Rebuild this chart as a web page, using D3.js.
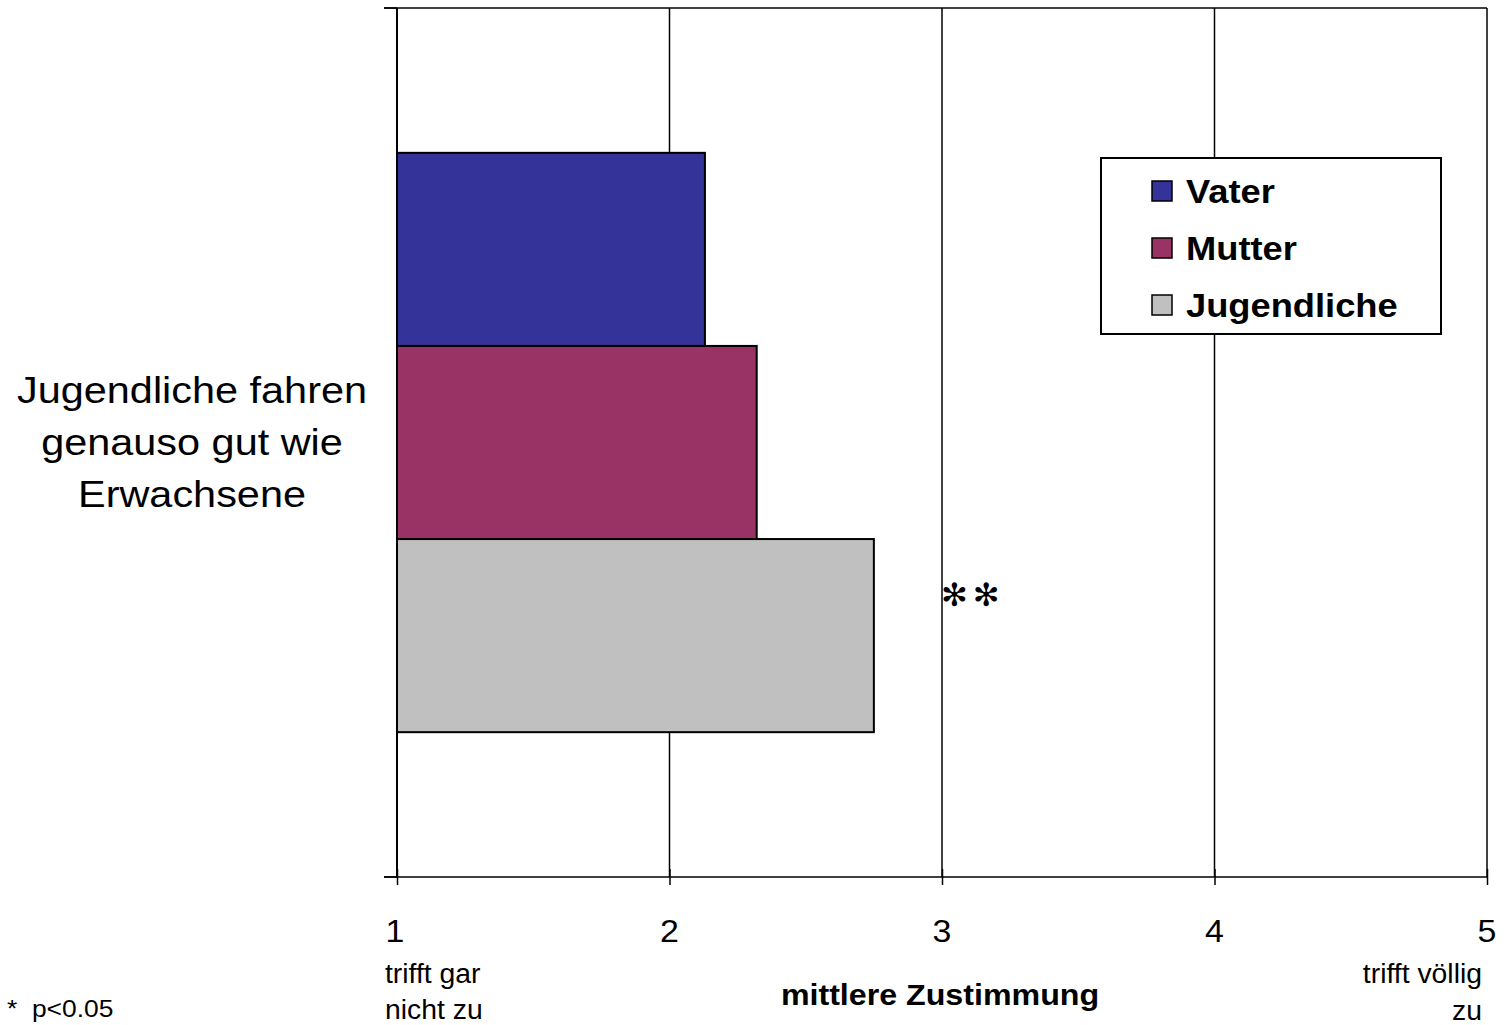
<!DOCTYPE html>
<html>
<head>
<meta charset="utf-8">
<script src="https://cdn.jsdelivr.net/npm/d3@7"></script>
<style>
  html, body { margin: 0; padding: 0; background: #fff; }
  svg { display: block; font-family: "Liberation Sans", Arial, sans-serif; }
  text { white-space: pre; }
</style>
</head>
<body>
<svg id="chart" width="1508" height="1025"></svg>
<script>
const categories = ["Jugendliche fahren genauso gut wie Erwachsene"];
const categoryLines = ["Jugendliche fahren", "genauso gut wie", "Erwachsene"];
const series = ["Vater", "Mutter", "Jugendliche"];
const values = [2.13, 2.32, 2.75];
const colors = ["#333399", "#993366", "#C0C0C0"];
const xTicks = [1, 2, 3, 4, 5];
const leftEndLabel = ["trifft gar", "nicht zu"];
const rightEndLabel = ["trifft völlig", "zu"];
const xTitle = "mittlere Zustimmung";
const significance = "✻✻";
const footnote = "*  p<0.05";

(function () {
const svg = d3.select("#chart");
const pL = 397, pR = 1487, pT = 8, pB = 877;

// place a text with horizontal stretch
function txt(sel, px, py, sx) {
  return sel.attr("transform", `translate(${px},${py}) scale(${sx},1)`);
}

const x = d3.scaleLinear().domain([1, 5]).range([pL, pR]);
const yCat = d3.scaleBand().domain(categories).range([pT, pB]).paddingInner(0).paddingOuter(0);
const bandPad = yCat.bandwidth() / 6;
const ySer = d3.scaleBand().domain(series)
  .range([yCat(categories[0]) + bandPad, yCat(categories[0]) + yCat.bandwidth() - bandPad]);

// top horizontal line (category boundary)
svg.append("line").attr("x1", pL - 13).attr("x2", pR).attr("y1", pT).attr("y2", pT)
  .attr("stroke", "#000").attr("stroke-width", 1.5);

// vertical gridlines
svg.append("g").selectAll("line").data(xTicks.slice(1)).join("line")
  .attr("x1", d => x(d)).attr("x2", d => x(d))
  .attr("y1", pT).attr("y2", pB)
  .attr("stroke", "#000").attr("stroke-width", 1.5);

// bars
svg.append("g").selectAll("rect").data(series).join("rect")
  .attr("x", x(1))
  .attr("y", d => ySer(d))
  .attr("width", (d, i) => x(values[i]) - x(1))
  .attr("height", ySer.bandwidth())
  .attr("fill", (d, i) => colors[i])
  .attr("stroke", "#000").attr("stroke-width", 2);

// y axis
svg.append("line").attr("x1", pL).attr("x2", pL).attr("y1", pT).attr("y2", pB)
  .attr("stroke", "#000").attr("stroke-width", 2);
svg.append("g").selectAll("line").data([pT, pB]).join("line")
  .attr("x1", pL - 13).attr("x2", pL).attr("y1", d => d).attr("y2", d => d)
  .attr("stroke", "#000").attr("stroke-width", 1.5);

// x axis
const xAxis = d3.axisBottom(x).tickValues(xTicks).tickSize(8).tickSizeOuter(0).tickFormat("");
const gx = svg.append("g").attr("transform", `translate(0,${pB})`).call(xAxis);
gx.select(".domain").attr("stroke", "#000").attr("stroke-width", 1.5)
  .attr("d", `M${pL - 13},0H${pR}`);
gx.selectAll(".tick line").attr("stroke", "#000").attr("stroke-width", 1.5).attr("y1", -8).attr("y2", 8);

// tick labels
svg.append("g").selectAll("text").data(xTicks).join("text")
  .each(function (d) { txt(d3.select(this), x(d) - (d === 1 ? 2 : 0), 942, 1.06); })
  .attr("text-anchor", "middle")
  .attr("font-size", 32)
  .text(d => d);

// end labels
svg.append("g").selectAll("text").data(leftEndLabel).join("text")
  .each(function (d, i) { txt(d3.select(this), 385, 983 + i * 36, 1.05); })
  .attr("font-size", 27).text(d => d);
svg.append("g").selectAll("text").data(rightEndLabel).join("text")
  .each(function (d, i) { txt(d3.select(this), 1482, 983 + i * 37, 1.05); })
  .attr("text-anchor", "end")
  .attr("font-size", 27).text(d => d);

// x title
txt(svg.append("text"), 940, 1005, 1.11).attr("text-anchor", "middle")
  .attr("font-size", 29).attr("font-weight", "bold").text(xTitle);

// category label
svg.append("g").selectAll("text").data(categoryLines).join("text")
  .each(function (d, i) { txt(d3.select(this), 192, 403 + i * 52, 1.12); })
  .attr("text-anchor", "middle").attr("font-size", 37).text(d => d);

// significance
svg.append("text").attr("x", 941).attr("y", 606).attr("font-size", 32)
  .attr("letter-spacing", 5)
  .attr("font-family", "DejaVu Sans").text(significance);

// footnote
txt(svg.append("text"), 7, 1017, 1.1).attr("font-size", 24).text(footnote);

// legend
const lg = svg.append("g");
lg.append("rect").attr("x", 1101).attr("y", 158).attr("width", 340).attr("height", 176)
  .attr("fill", "#fff").attr("stroke", "#000").attr("stroke-width", 2);
const items = lg.selectAll("g.item").data(series).join("g").attr("class", "item")
  .attr("transform", (d, i) => `translate(1152, ${191 + i * 57})`);
items.append("rect").attr("x", 0).attr("y", -10).attr("width", 20).attr("height", 20)
  .attr("fill", (d, i) => colors[i]).attr("stroke", "#000").attr("stroke-width", 1.5);
items.append("text")
  .each(function () { txt(d3.select(this), 34, 12, 1.1); })
  .attr("font-size", 33)
  .attr("font-weight", "bold").text(d => d);
})();
</script>
</body>
</html>
